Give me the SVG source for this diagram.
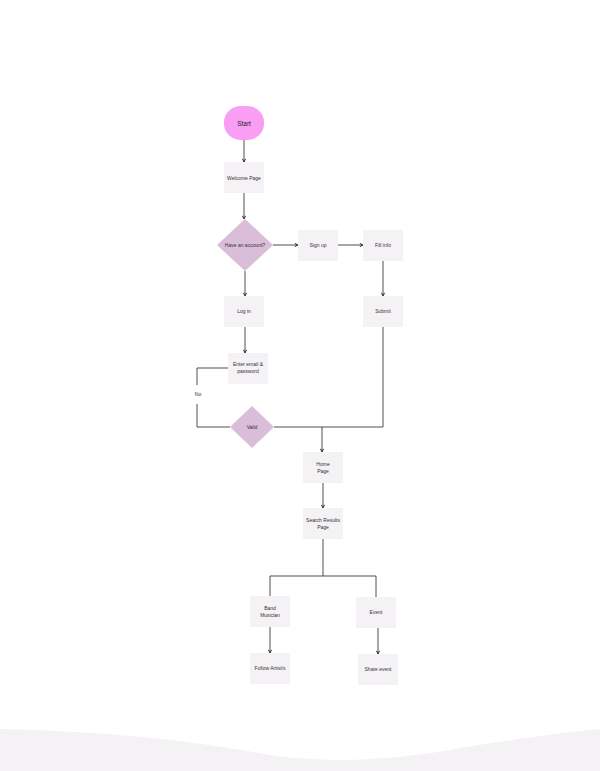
<svg xmlns="http://www.w3.org/2000/svg" width="600" height="771" viewBox="0 0 600 771">
<style>
.box{fill:#F4F2F4}
.dia{fill:#D9BDD9}
.t{font-family:"Liberation Sans",Arial,sans-serif;font-size:5px;fill:#333;text-anchor:middle}
.c{fill:none;stroke:#3a3a3a;stroke-width:0.9}
.a{marker-end:url(#arr)}
</style>
<defs>
<marker id="arr" viewBox="0 0 4 4" refX="3.6" refY="2" markerWidth="4" markerHeight="4" markerUnits="userSpaceOnUse" orient="auto">
<path d="M0.4,0.4 L3.5,2 L0.4,3.6" fill="none" stroke="#2e2e2e" stroke-width="1"/>
</marker>
</defs>
<rect width="600" height="771" fill="#FFFFFF"/>
<path id="wave" d="M0,729 C120,732 200,742 270,755 C330,764 400,760 460,748 C510,740 560,733 600,729 L600,771 L0,771 Z" fill="#F4F2F4"/>
<g id="connectors">
<path class="c a" d="M244,140 V162"/>
<path class="c a" d="M244,193 V219"/>
<path class="c a" d="M273,245 H298"/>
<path class="c a" d="M338,245 H363"/>
<path class="c a" d="M245,271 V296"/>
<path class="c a" d="M383,261 V296"/>
<path class="c a" d="M245,327 V353"/>
<path class="c" d="M228,368 H197 V385"/>
<path class="c" d="M197,404 V427 H230"/>
<path class="c" d="M274,427 H383 V327"/>
<path class="c a" d="M322,427 V452"/>
<path class="c a" d="M323,483 V508"/>
<path class="c" d="M323,539 V576"/>
<path class="c" d="M270,596 V576 H376 V597"/>
<path class="c a" d="M270,627 V653"/>
<path class="c a" d="M378,628 V654"/>
<text class="t" x="198" y="396" text-anchor="middle">No</text>
</g>
<g id="start">
<rect x="224" y="106" width="40" height="34" rx="17" ry="16" fill="#FA9DF5"/>
<text class="t" x="244" y="125.5" style="font-size:6.5px;fill:#222">Start</text>
</g>
<g id="welcome">
<rect class="box" x="224" y="162" width="40" height="31"/>
<text class="t" x="244" y="179.5">Welcome Page</text>
</g>
<g id="have-account">
<polygon class="dia" points="245,219 273,245 245,271 217,245"/>
<text class="t" x="245" y="246.5">Have an account?</text>
</g>
<g id="signup">
<rect class="box" x="298" y="230" width="40" height="31"/>
<text class="t" x="318" y="247">Sign up</text>
</g>
<g id="fillinfo">
<rect class="box" x="363" y="230" width="40" height="31"/>
<text class="t" x="383" y="247">Fill info</text>
</g>
<g id="login">
<rect class="box" x="224" y="296" width="40" height="31"/>
<text class="t" x="244" y="313">Log in</text>
</g>
<g id="submit">
<rect class="box" x="363" y="296" width="40" height="31"/>
<text class="t" x="383" y="313">Submit</text>
</g>
<g id="enter">
<rect class="box" x="228" y="353" width="40" height="31"/>
<text class="t" x="248" y="366">Enter email &amp;</text>
<text class="t" x="248" y="372.5">password</text>
</g>
<g id="valid">
<polygon class="dia" points="252,406 274,427 252,448 230,427"/>
<text class="t" x="252" y="428.5">Valid</text>
</g>
<g id="home">
<rect class="box" x="303" y="452" width="40" height="31"/>
<text class="t" x="323" y="466">Home</text>
<text class="t" x="323" y="472.5">Page</text>
</g>
<g id="search">
<rect class="box" x="303" y="508" width="40" height="31"/>
<text class="t" x="323" y="522">Search Results</text>
<text class="t" x="323" y="528.5">Page</text>
</g>
<g id="band">
<rect class="box" x="250" y="596" width="40" height="31"/>
<text class="t" x="270" y="610">Band</text>
<text class="t" x="270" y="616.5">Musician</text>
</g>
<g id="event">
<rect class="box" x="356" y="597" width="40" height="31"/>
<text class="t" x="376" y="614">Event</text>
</g>
<g id="follow">
<rect class="box" x="250" y="653" width="40" height="31"/>
<text class="t" x="270" y="670">Follow Artist/s</text>
</g>
<g id="share">
<rect class="box" x="358" y="654" width="40" height="31"/>
<text class="t" x="378" y="671">Share event</text>
</g>
</svg>
